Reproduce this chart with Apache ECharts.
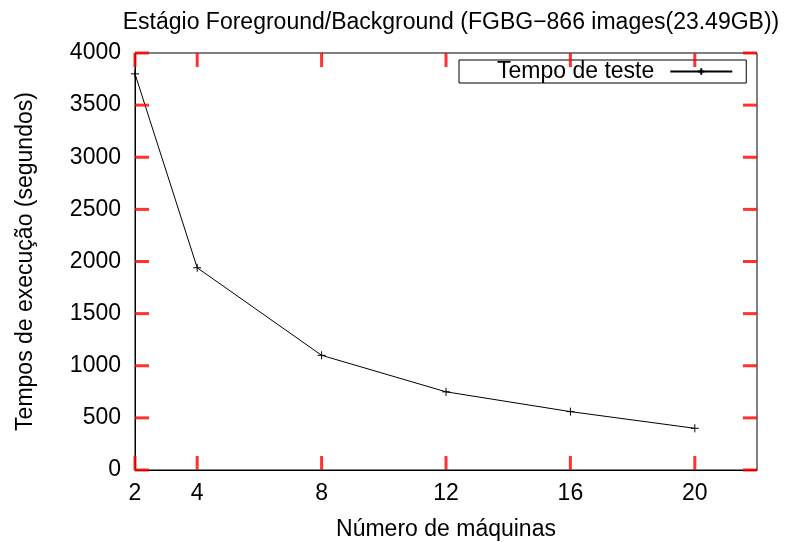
<!DOCTYPE html>
<html>
<head>
<meta charset="utf-8">
<script src="https://cdn.jsdelivr.net/npm/echarts@6/dist/echarts.min.js"></script>
<style>
  html, body { margin: 0; padding: 0; background: #fff; }
  #main { width: 797px; height: 542px; }
</style>
</head>
<body>
<div id="main"></div>
<script>
var myChart = echarts.init(document.getElementById('main'));

// dados
var maquinas = [2, 4, 8, 12, 16, 20];
var tempos = [3800, 1940, 1100, 750, 560, 400];
var xTicks = [2, 4, 8, 12, 16, 20];
var yTicks = [0, 500, 1000, 1500, 2000, 2500, 3000, 3500, 4000];

var xMin = 2, xMax = 22, yMin = 0, yMax = 4000;

var serieData = [];
for (var i = 0; i < maquinas.length; i++) {
  serieData.push([maquinas[i], tempos[i]]);
}

var fonte = 'Liberation Sans, Arial, Helvetica, sans-serif';
var plusPath = 'path://M0,5L10,5M5,0L5,10';
var tamTick = 7;

// ticks para dentro nos quatro lados (estilo gnuplot), feitos com retângulos finos
function serieTick(nome, data, tamanho, desloc) {
  return {
    name: nome,
    type: 'scatter',
    data: data,
    symbol: 'rect',
    symbolSize: tamanho,
    symbolOffset: desloc,
    itemStyle: { color: '#f00', borderWidth: 0 },
    silent: true,
    clip: false,
    z: 10
  };
}

var ticksBaixo = xTicks.map(function (v) { return [v, yMin]; });
var ticksTopo = xTicks.map(function (v) { return [v, yMax]; });
var ticksEsq = yTicks.map(function (v) { return [xMin, v]; });
var ticksDir = yTicks.map(function (v) { return [xMax, v]; });

var option = {
  animation: false,
  title: {
    text: 'Estágio Foreground/Background (FGBG\u2212866 images(23.49GB))',
    left: 446,
    textAlign: 'center',
    top: 6,
    textStyle: { color: '#000', fontSize: 23, fontWeight: 'normal', fontFamily: fonte }
  },
  legend: {
    data: ['Tempo de teste'],
    left: 459,
    top: 60,
    align: 'right',
    borderColor: '#000',
    borderWidth: 1,
    borderRadius: 0,
    padding: [0, 13, 0, 38],
    itemWidth: 62,
    itemHeight: 8,
    textStyle: { color: '#000', fontSize: 23, fontFamily: fonte, padding: [0, 11, 0, 0] }
  },
  grid: {
    left: 135, right: 40, top: 53, bottom: 72, containLabel: false,
    outerBoundsMode: 'none',
    show: true, borderColor: '#000', borderWidth: 1, backgroundColor: 'transparent'
  },
  xAxis: {
    type: 'value',
    min: xMin,
    max: xMax,
    name: 'Número de máquinas',
    nameLocation: 'middle',
    nameGap: 48,
    nameTextStyle: { color: '#000', fontSize: 23, fontFamily: fonte },
    axisLine: { show: true, onZero: false, lineStyle: { color: '#000', width: 1 } },
    axisTick: { show: false },
    axisLabel: { customValues: xTicks, color: '#000', fontSize: 23, fontFamily: fonte, margin: 12 },
    splitLine: { show: false }
  },
  yAxis: {
    type: 'value',
    min: yMin,
    max: yMax,
    interval: 500,
    name: 'Tempos de execução (segundos)',
    nameLocation: 'middle',
    nameGap: 98,
    nameTextStyle: { color: '#000', fontSize: 23, fontFamily: fonte },
    axisLine: { show: true, onZero: false, lineStyle: { color: '#000', width: 1 } },
    axisTick: { show: false },
    axisLabel: {
      color: '#000', fontSize: 23, fontFamily: fonte, margin: 14,
      formatter: function (v) { return String(v); }
    },
    splitLine: { show: false }
  },
  series: [
    {
      name: 'Tempo de teste',
      type: 'line',
      data: serieData,
      symbol: plusPath,
      symbolSize: 8,
      showSymbol: true,
      lineStyle: { color: '#000', width: 1 },
      itemStyle: { color: '#000', borderColor: '#000', borderWidth: 1 }
    },
    serieTick('tickBaixo', ticksBaixo, [3, 14], [0, -7]),
    serieTick('tickTopo', ticksTopo, [3, 14], [0, 7]),
    serieTick('tickEsq', ticksEsq, [14, 3], [7, 0]),
    serieTick('tickDir', ticksDir, [14, 3], [-7, 0])
  ]
};

myChart.setOption(option);
</script>
</body>
</html>
